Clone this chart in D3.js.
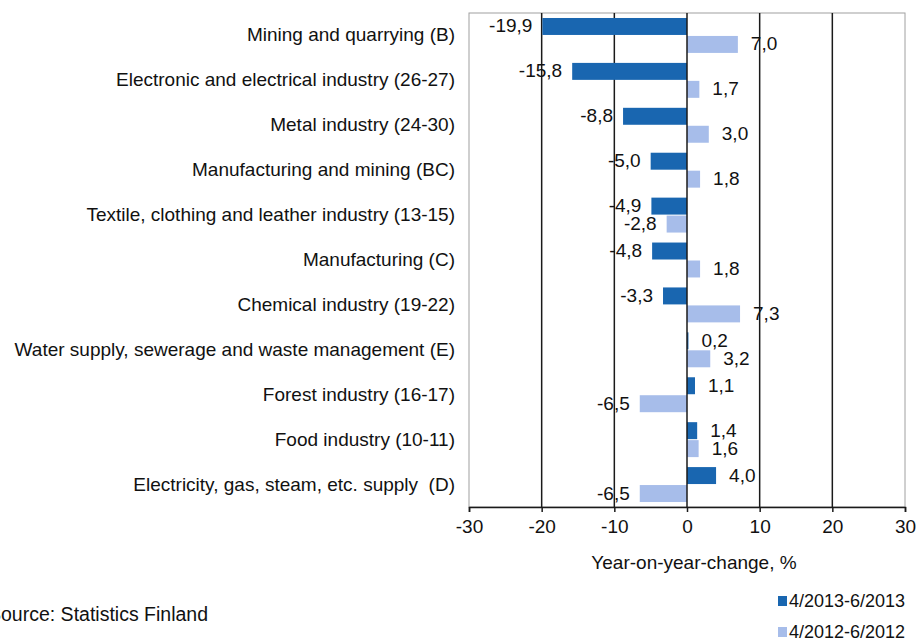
<!DOCTYPE html>
<html>
<head>
<meta charset="utf-8">
<script src="https://cdn.jsdelivr.net/npm/d3@7"></script>
<style>
    body { margin: 0; background: white; }
    svg { display: block; font-family: "Liberation Sans", Arial, sans-serif; }
    text { fill: #111; }
</style>
</head>
<body>
<div id="chart"></div>
<script>
var categories = [
    'Mining and quarrying (B)',
    'Electronic and electrical industry (26-27)',
    'Metal industry (24-30)',
    'Manufacturing and mining (BC)',
    'Textile, clothing and leather industry (13-15)',
    'Manufacturing (C)',
    'Chemical industry (19-22)',
    'Water supply, sewerage and waste management (E)',
    'Forest industry (16-17)',
    'Food industry (10-11)',
    'Electricity, gas, steam, etc. supply  (D)'
]
var series2013 = [-19.9, -15.8, -8.8, -5.0, -4.9, -4.8, -3.3, 0.2, 1.1, 1.4, 4.0]
var series2012 = [7.0, 1.7, 3.0, 1.8, -2.8, 1.8, 7.3, 3.2, -6.5, 1.6, -6.5]
var seriesNames = ['4/2013-6/2013', '4/2012-6/2012']
var seriesColors = ['#1966b0', '#a7bdea']
var tickValues = [-30, -20, -10, 0, 10, 20, 30]

var layout = {
    width: 916,
    height: 641,
    plot: { left: 469, right: 905, top: 13, bottom: 507 }
}

function comma(v) {
    return v.toFixed(1).replace('.', ',')
}

var svg = d3.select('#chart').append('svg')
    .attr('width', layout.width)
    .attr('height', layout.height)

var x = d3.scaleLinear()
    .domain([-30, 30])
    .range([layout.plot.left, layout.plot.right])

var y0 = d3.scaleBand()
    .domain(categories)
    .range([layout.plot.top, layout.plot.bottom])

var y1 = d3.scaleBand()
    .domain(seriesNames)
    .range([0, y0.bandwidth()])
    .paddingOuter(0.25)

var rows = categories.map(function (c, i) {
    return { name: c, values: [series2013[i], series2012[i]] }
})

// plot frame
svg.append('rect')
    .attr('x', x(-30))
    .attr('y', layout.plot.top)
    .attr('width', x(30) - x(-30))
    .attr('height', layout.plot.bottom - layout.plot.top)
    .attr('fill', 'none')
    .attr('stroke', '#a0a0a0')

// gridlines
svg.append('g')
    .selectAll('line')
    .data(tickValues.filter(function (d) { return d > -30 && d < 30 && d !== 0 }))
    .join('line')
    .attr('x1', function (d) { return x(d) })
    .attr('x2', function (d) { return x(d) })
    .attr('y1', layout.plot.top)
    .attr('y2', layout.plot.bottom)
    .attr('stroke', '#1a1a1a')
    .attr('stroke-width', 1.5)

// bars
var groups = svg.append('g')
    .selectAll('g')
    .data(rows)
    .join('g')
    .attr('transform', function (d) { return 'translate(0,' + y0(d.name) + ')' })

groups.selectAll('rect')
    .data(function (d) { return d.values.map(function (v, i) { return { v: v, s: i } }) })
    .join('rect')
    .attr('x', function (d) { return x(Math.min(0, d.v)) })
    .attr('y', function (d) { return y1(seriesNames[d.s]) + 0.5 })
    .attr('width', function (d) { return Math.abs(x(d.v) - x(0)) })
    .attr('height', y1.bandwidth() - 1)
    .attr('fill', function (d) { return seriesColors[d.s] })

// zero line on top of bars
svg.append('line')
    .attr('x1', x(0))
    .attr('x2', x(0))
    .attr('y1', layout.plot.top)
    .attr('y2', layout.plot.bottom)
    .attr('stroke', '#1a1a1a')
    .attr('stroke-width', 1.5)

// value labels
groups.selectAll('text')
    .data(function (d) { return d.values.map(function (v, i) { return { v: v, s: i } }) })
    .join('text')
    .attr('x', function (d) { return d.v < 0 ? x(d.v) - 10 : x(d.v) + 13 })
    .attr('y', function (d) { return y1(seriesNames[d.s]) + y1.bandwidth() / 2 + 6 })
    .attr('text-anchor', function (d) { return d.v < 0 ? 'end' : 'start' })
    .attr('font-size', 19)
    .text(function (d) { return comma(d.v) })

// category labels
svg.append('g')
    .selectAll('text')
    .data(categories)
    .join('text')
    .attr('x', 455)
    .attr('y', function (d) { return y0(d) + y0.bandwidth() / 2 + 6 })
    .attr('text-anchor', 'end')
    .attr('font-size', 19)
    .attr('xml:space', 'preserve')
    .style('white-space', 'pre')
    .text(function (d) { return d })

// x axis
var axis = svg.append('g')
    .attr('transform', 'translate(0,' + layout.plot.bottom + ')')
    .call(d3.axisBottom(x)
        .tickValues(tickValues)
        .tickSize(5)
        .tickPadding(8)
        .tickFormat(function (d) { return String(d) }))

axis.select('.domain').attr('stroke', '#1a1a1a').attr('stroke-width', 1.5)
axis.selectAll('.tick line').attr('stroke', '#1a1a1a').attr('stroke-width', 1.5)
axis.selectAll('.tick text')
    .attr('font-size', 19)
    .attr('font-family', '"Liberation Sans", Arial, sans-serif')
    .attr('fill', '#111')

svg.append('text')
    .attr('x', 694)
    .attr('y', 569)
    .attr('text-anchor', 'middle')
    .attr('font-size', 19)
    .text('Year-on-year-change, %')

// source
svg.append('text')
    .attr('x', -12)
    .attr('y', 621)
    .attr('font-size', 19.5)
    .text('Source: Statistics Finland')

// legend
var legend = svg.append('g')
    .selectAll('g')
    .data(seriesNames)
    .join('g')
    .attr('transform', function (d, i) { return 'translate(778,' + (596 + i * 31) + ')' })

legend.append('rect')
    .attr('width', 9)
    .attr('height', 10)
    .attr('fill', function (d, i) { return seriesColors[i] })

legend.append('text')
    .attr('x', 11)
    .attr('y', 11)
    .attr('font-size', 18)
    .text(function (d) { return d })
</script>
</body>
</html>
